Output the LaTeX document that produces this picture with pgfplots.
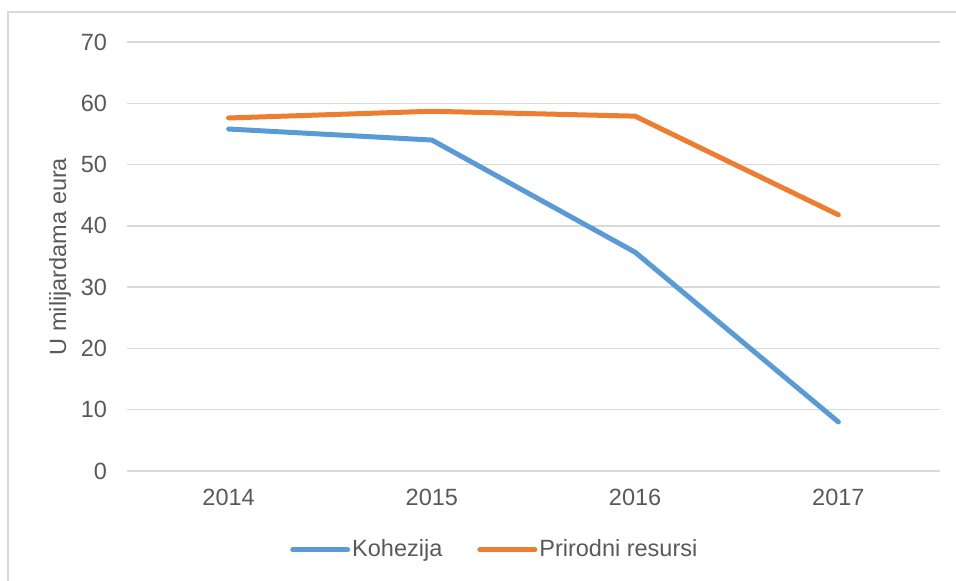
\documentclass[border=0pt]{standalone}
\usepackage{fontspec}
\setmainfont{Liberation Sans}
\usepackage{pgfplots}
\pgfplotsset{compat=1.18}
\definecolor{koh}{HTML}{5B9BD5}
\definecolor{pri}{HTML}{ED7D31}
\definecolor{gridc}{HTML}{D9D9D9}
\definecolor{txt}{HTML}{595959}
\begin{document}
\fontsize{23.5}{28}\selectfont
\begin{tikzpicture}[x=1pt,y=1pt]
\path[use as bounding box] (0,0) rectangle (956,581);
\draw[gridc, line width=1.5pt] (8,-20) rectangle (980,569);
\begin{axis}[
  at={(127pt,110pt)}, anchor=south west,
  scale only axis,
  width=813pt, height=429pt,
  xmin=-0.5, xmax=3.5,
  ymin=0, ymax=70,
  xtick={0,1,2,3},
  xticklabels={2014,2015,2016,2017},
  ytick={0,10,...,70},
  ymajorgrids,
  grid style={gridc, line width=1.5pt},
  axis line style={draw=none},
  major tick length=0pt,
  tick label style={txt, font=\fontsize{23.5}{28}\selectfont},
  /pgf/number format/assume math mode=true,
  yticklabel style={xshift=-12pt},
  xticklabel style={yshift=-10pt},
  ylabel={U milijardama eura},
  ylabel style={txt, font=\fontsize{23.5}{28}\selectfont, yshift=-6pt},
  legend columns=2,
  legend style={draw=none, fill=none, inner sep=0pt, text=txt,
    font=\fontsize{23.5}{28}\selectfont,
    at={(0.2005,-0.184)}, anchor=west,
    /tikz/every even column/.append style={column sep=33pt}},
  legend image code/.code={\draw[#1, line cap=round] (0pt,0pt) -- (55pt,0pt);},
  clip=false,
]
\addplot[koh, line width=5pt, line cap=round, line join=round] coordinates {
  (0,55.8) (1,54.0) (2,35.7) (3,8.0)
};
\addlegendentry{Kohezija}
\addplot[pri, line width=5pt, line cap=round, line join=round] coordinates {
  (0,57.6) (1,58.7) (2,57.9) (3,41.8)
};
\addlegendentry{Prirodni resursi}
\draw[gridc, line width=1.5pt] (rel axis cs:0,0) -- (rel axis cs:1,0);
\end{axis}
\end{tikzpicture}
\end{document}
